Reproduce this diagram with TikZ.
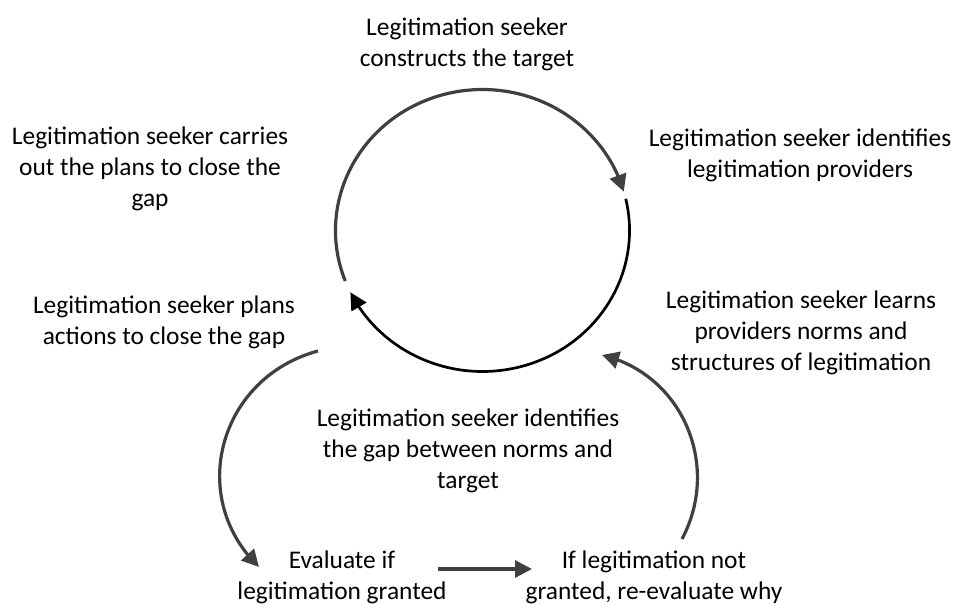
\documentclass[tikz,border=0pt]{standalone}
\usepackage{fontspec}
\setmainfont{Carlito}
\usetikzlibrary{arrows.meta,bending}
\definecolor{arrowgray}{HTML}{404040}
\begin{document}
\begin{tikzpicture}[x=1pt,y=1pt,
  lbl/.style={align=center, inner sep=0pt, text=black,
    font=\fontsize{25.4}{31}\selectfont},
  tip/.style={-{Triangle[length=17pt,width=17pt]}},
  flow/.style={tip, line width=3.2pt, draw=arrowgray},
  flowdark/.style={tip, line width=2.7pt, draw=black}]
\useasboundingbox (0,0) rectangle (956,-605);

% step labels
\node[lbl] (top)    at (467,-44)    {Legitimation seeker\\constructs the target};
\node[lbl] (idprov) at (800,-155.5) {Legitimation seeker identifies\\legitimation providers};
\node[lbl] (carry)  at (150,-169)   {Legitimation seeker carries\\out the plans to close the\\gap};
\node[lbl] (plan)   at (164,-322)   {Legitimation seeker plans\\actions to close the gap};
\node[lbl] (learn)  at (801,-332.5) {Legitimation seeker learns\\providers norms and\\structures of legitimation};
\node[lbl] (gap)    at (468,-450.5) {Legitimation seeker identifies\\the gap between norms and\\target};
\node[lbl] (eval)   at (342,-577)   {Evaluate if\\legitimation granted};
\node[lbl] (reeval) at (654,-577)   {If legitimation not\\granted, re-evaluate why};

% anchor points of the connectors
\coordinate (o)   at (482.5,-230.5);
\coordinate (evs) at (318,-351);
\coordinate (eve) at (259,-567);
\coordinate (rvs) at (682,-539);
\coordinate (rve) at (602,-355);
\coordinate (hs)  at (438,-569);
\coordinate (he)  at (532,-569);

% main cycle
\draw[flow] (o) ++(201:147 and 141)
  arc[start angle=201, end angle=16, x radius=147, y radius=141];
\draw[flowdark] (o) ++(13:147 and 141)
  arc[start angle=13, end angle=-154, x radius=147, y radius=141];

% evaluation loop
\draw[flow] (evs) to[out=195, in=136, looseness=1.16] (eve);
\draw[flow] (hs) -- (he);
\draw[flow] (rvs) to[out=62, in=-13.5, looseness=1.06] (rve);
\end{tikzpicture}
\end{document}
